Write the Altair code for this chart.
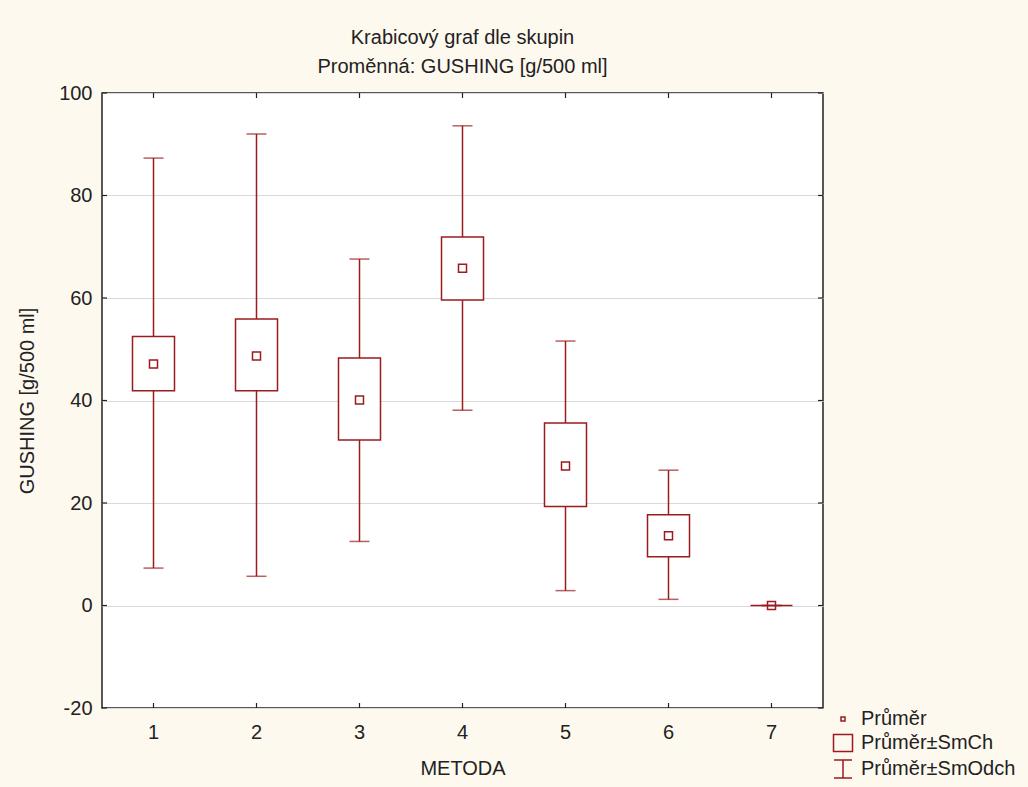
import altair as alt
import pandas as pd

metoda = ["1", "2", "3", "4", "5", "6", "7"]
mean = [47.1, 48.7, 40.1, 65.8, 27.2, 13.6, 0.0]
se_lo = [41.9, 41.9, 32.3, 59.6, 19.3, 9.5, 0.0]
se_hi = [52.5, 55.9, 48.3, 71.9, 35.6, 17.7, 0.0]
sd_lo = [7.3, 5.7, 12.5, 38.1, 2.9, 1.2, 0.0]
sd_hi = [87.3, 92.0, 67.6, 93.6, 51.6, 26.4, 0.0]
y_ticks = [-20, 0, 20, 40, 60, 80, 100]
legend_items = ["Průměr", "Průměr±SmCh", "Průměr±SmOdch"]
legend_paths = [
    "M-0.2,-0.2H0.2V0.2H-0.2Z",
    "M-0.95,-0.85H0.95V0.85H-0.95Z",
    "M-0.9,-0.9H0.9M0,-0.9V0.9M-0.9,0.9H0.9",
]

RED = "#9B1B1E"
FONT = "Liberation Sans"
W, H = 721, 615

df = pd.DataFrame({"metoda": metoda, "mean": mean, "se_lo": se_lo, "se_hi": se_hi,
                   "sd_lo": sd_lo, "sd_hi": sd_hi})
ticks_df = pd.DataFrame({"v": y_ticks})
leg_df = pd.DataFrame({"item": legend_items})

xenc = alt.X("metoda:N", sort=metoda,
             scale=alt.Scale(paddingInner=0, paddingOuter=0),
             axis=alt.Axis(labelAngle=0, ticks=False, domain=False, title="METODA",
                           labelFont=FONT, labelFontSize=20, labelColor="#222",
                           labelPadding=14, titleFont=FONT, titleFontSize=20,
                           titleFontWeight="normal", titleColor="#222", titlePadding=16,
                           grid=False))
yscale = alt.Scale(domain=[-20, 100], nice=False, zero=False)
yaxis = alt.Axis(values=y_ticks, ticks=False, domain=False, title="GUSHING [g/500 ml]",
                 labelExpr="toString(datum.value)",
                 labelFont=FONT, labelFontSize=20, labelColor="#222", labelPadding=10,
                 titleFont=FONT, titleFontSize=20, titleFontWeight="normal",
                 titleColor="#222", titlePadding=21, grid=True, gridColor="#D9D9D9",
                 gridWidth=1)

base = alt.Chart(df)

whisker = base.mark_rule(color=RED, strokeWidth=1.5).encode(
    x=xenc,
    y=alt.Y("sd_lo:Q", scale=yscale, axis=yaxis),
    y2="sd_hi:Q",
)
cap_hi = base.mark_tick(color=RED, size=20, thickness=1.5).encode(
    x=alt.X("metoda:N", sort=metoda), y=alt.Y("sd_hi:Q"))
cap_lo = base.mark_tick(color=RED, size=20, thickness=1.5).encode(
    x=alt.X("metoda:N", sort=metoda), y=alt.Y("sd_lo:Q"))
box = base.mark_bar(fill="white", stroke=RED, strokeWidth=1.5, size=42).encode(
    x=alt.X("metoda:N", sort=metoda), y=alt.Y("se_lo:Q"), y2="se_hi:Q")
pt = base.mark_point(shape="square", size=64, filled=False, color=RED,
                     strokeWidth=1.5, opacity=1).encode(
    x=alt.X("metoda:N", sort=metoda), y=alt.Y("mean:Q"))

# inward tick marks on all four sides
xt_bot = base.mark_rule(color="#222", strokeWidth=1.2).encode(
    x=alt.X("metoda:N", sort=metoda), y=alt.value(H), y2=alt.value(H - 5))
xt_top = base.mark_rule(color="#222", strokeWidth=1.2).encode(
    x=alt.X("metoda:N", sort=metoda), y=alt.value(0), y2=alt.value(5))
yt_l = alt.Chart(ticks_df).mark_rule(color="#222", strokeWidth=1.2).encode(
    y=alt.Y("v:Q"), x=alt.value(0), x2=alt.value(5))
yt_r = alt.Chart(ticks_df).mark_rule(color="#222", strokeWidth=1.2).encode(
    y=alt.Y("v:Q"), x=alt.value(W), x2=alt.value(W - 5))

legend_layer = alt.Chart(leg_df).mark_point(filled=False, opacity=0, color=RED).encode(
    x=alt.value(0), y=alt.value(0),
    shape=alt.Shape("item:N", sort=legend_items,
                    scale=alt.Scale(domain=legend_items, range=legend_paths),
                    legend=alt.Legend(title=None, orient="none", legendX=730, legendY=615,
                                      symbolSize=400, symbolStrokeColor=RED,
                                      symbolFillColor="transparent", symbolOpacity=1,
                                      symbolStrokeWidth=1.5, labelFont=FONT,
                                      labelFontSize=20, labelColor="#222",
                                      labelOffset=7, rowPadding=2, padding=0)),
)

chart = alt.layer(whisker, cap_hi, cap_lo, box, pt, xt_bot, xt_top, yt_l, yt_r,
                  legend_layer).properties(
    width=W, height=H,
    title=alt.TitleParams(text=["Krabicový graf dle skupin",
                                "Proměnná: GUSHING [g/500 ml]"],
                          font=FONT, fontSize=20, fontWeight="normal", color="#222",
                          lineHeight=29, anchor="middle", offset=6),
    autosize=alt.AutoSizeParams(type="none"),
    padding={"left": 102, "top": 93, "right": 205, "bottom": 79},
    background="#FEF9EF",
).configure_view(fill="white", stroke="#222", strokeWidth=1.5)

chart.save("out.html", embed_options={"renderer": "svg", "actions": False})
